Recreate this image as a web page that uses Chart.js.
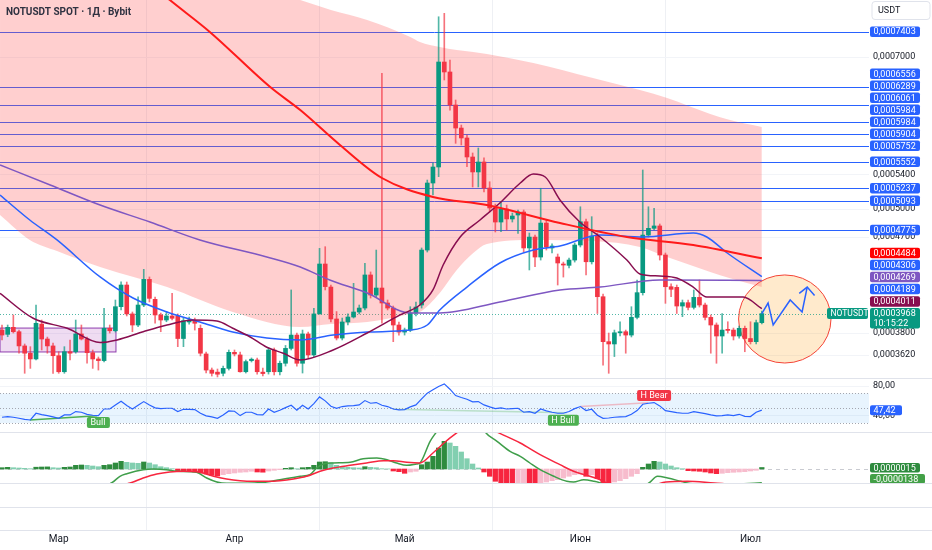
<!DOCTYPE html>
<html><head><meta charset="utf-8">
<script src="https://cdn.jsdelivr.net/npm/chart.js@4.4.1/dist/chart.umd.min.js"></script>
<style>html,body{margin:0;padding:0;background:#fff;}#wrap{width:932px;height:550px;position:relative;}</style>
</head><body><div id="wrap"><canvas id="c"></canvas></div>
<script>
// ---------- DATA (daily candles, index 0 = 19 Feb) ----------
const monthIdx = [10, 41, 71, 102, 132];
const monthLabels = ['Мар', 'Апр', 'Май', 'Июн', 'Июл'];
const priceTicks = [7.0e-4, 5.4e-4, 5.0e-4, 4.7e-4, 3.8e-4, 3.62e-4];
const rsiTicks = [80, 40];

const openP = [3.826,3.790,3.849,3.812,3.694,3.635,3.589,3.877,3.751,3.694,
3.615,3.489,3.647,3.647,3.793,3.751,3.639,3.589,3.576,3.841,
3.820,4.029,4.227,3.965,3.869,4.044,4.280,4.095,3.956,3.912,
3.947,3.947,3.755,3.895,3.906,3.841,3.629,3.502,3.486,3.477,
3.515,3.642,3.621,3.489,3.576,3.581,3.486,3.489,3.661,3.489,
3.555,3.674,3.784,3.555,3.793,3.621,3.965,4.428,4.208,3.921,
3.759,3.895,3.938,3.982,4.017,4.322,4.134,4.199,4.062,4.017,
3.869,3.809,3.826,3.973,4.044,4.567,5.297,5.488,6.923,6.772,
6.295,5.982,5.852,5.611,5.428,5.549,5.239,5.012,4.859,5.001,
4.892,4.935,4.968,4.588,4.700,4.497,4.848,4.588,4.497,4.428,
4.415,4.467,4.618,4.862,4.450,4.710,4.119,3.729,3.710,3.803,
3.812,3.784,3.935,4.156,4.721,4.792,4.817,4.517,4.211,4.205,
4.035,4.065,4.023,4.113,4.044,3.935,3.869,3.776,3.832,3.826,
3.776,3.841,3.755,3.729,3.889].map(v => v * 1e-4);
const highP = [3.869,3.869,3.956,3.826,3.710,3.688,4.044,3.912,3.767,3.718,
3.647,3.688,3.743,3.912,3.869,3.767,3.661,3.605,4.015,3.869,
4.089,4.258,4.255,3.982,4.119,4.376,4.303,4.116,3.973,3.986,
4.150,3.965,3.929,3.938,3.929,3.869,3.645,3.518,3.510,3.533,
3.661,3.661,3.645,3.581,3.597,3.597,3.518,3.677,3.677,3.573,
3.698,4.181,3.801,3.826,3.809,4.015,4.584,4.601,4.227,3.986,
3.929,3.965,4.243,4.044,4.434,4.351,4.567,6.752,4.089,4.035,
3.895,3.843,4.029,4.071,4.588,5.332,5.536,7.652,7.710,6.954,
6.365,6.022,5.891,5.661,5.724,5.599,5.312,5.056,5.083,5.045,
4.957,4.990,4.990,4.742,4.721,5.236,4.881,4.629,4.527,4.447,
4.487,4.639,5.026,4.892,4.917,4.742,4.144,3.801,3.826,3.897,
3.826,4.029,4.274,5.452,5.026,5.008,4.838,4.537,4.237,4.227,
4.089,4.089,4.181,4.274,4.062,3.956,3.887,3.969,3.897,3.843,
3.860,3.860,3.897,3.912,3.990].map(v => v * 1e-4);
const lowP = [3.743,3.770,3.801,3.635,3.477,3.515,3.581,3.661,3.635,3.477,
3.477,3.477,3.581,3.635,3.743,3.555,3.515,3.502,3.565,3.801,
3.809,4.000,3.947,3.812,3.855,4.029,4.071,3.884,3.812,3.897,
3.912,3.688,3.688,3.877,3.826,3.613,3.479,3.456,3.449,3.456,
3.502,3.613,3.486,3.479,3.565,3.471,3.456,3.471,3.464,3.464,
3.533,3.661,3.533,3.479,3.597,3.608,3.965,4.181,3.895,3.743,
3.743,3.869,3.929,3.965,4.000,4.107,4.116,3.884,4.000,3.729,
3.784,3.784,3.812,3.947,4.017,4.547,5.158,5.372,6.653,6.225,
5.783,5.762,5.492,5.251,5.251,5.193,4.968,4.753,4.757,4.774,
4.859,4.739,4.547,4.370,4.402,4.467,4.567,4.537,4.227,4.302,
4.389,4.447,4.598,4.322,4.428,3.969,3.541,3.477,3.608,3.776,
3.635,3.768,3.921,4.134,4.700,4.774,4.467,4.059,4.119,3.969,
3.941,4.000,4.008,4.026,3.912,3.635,3.555,3.635,3.801,3.743,
3.759,3.647,3.710,3.710,3.878].map(v => v * 1e-4);
const closeP = [3.784,3.849,3.812,3.694,3.635,3.589,3.884,3.751,3.694,3.615,
3.489,3.647,3.635,3.793,3.751,3.639,3.589,3.576,3.841,3.820,
4.029,4.227,3.965,3.869,4.044,4.280,4.104,3.956,3.912,3.947,
3.927,3.755,3.906,3.912,3.884,3.635,3.502,3.477,3.470,3.515,
3.642,3.629,3.489,3.568,3.587,3.489,3.475,3.661,3.489,3.555,
3.674,3.784,3.555,3.793,3.621,3.965,4.428,4.212,3.921,3.759,
3.895,3.938,3.982,4.017,4.322,4.134,4.199,4.062,4.017,3.869,
3.809,3.826,3.973,4.026,4.567,5.297,5.488,6.923,6.772,6.295,
5.982,5.852,5.611,5.428,5.549,5.239,5.012,4.859,5.001,4.892,
4.924,4.968,4.588,4.700,4.497,4.848,4.598,4.608,4.438,4.418,
4.467,4.618,4.862,4.450,4.710,4.119,3.729,3.710,3.803,3.812,
3.784,3.935,4.156,4.721,4.792,4.817,4.517,4.211,4.187,4.035,
4.065,4.023,4.113,4.044,3.935,3.869,3.776,3.826,3.823,3.776,
3.841,3.755,3.729,3.889,3.968].map(v => v * 1e-4);

// moving averages (sampled, x = candle index)
const redX = [24.3,29.6,36.7,47.3,52.6,59.6,67.0,76.0,85.5,98.4,110.2,121.9,134];
const redY = [8.392,7.941,7.396,6.550,6.225,5.762,5.356,5.136,5.045,4.849,4.701,4.618,4.484].map(v=>v*1e-4);
const blueX = [-0.35,4.9,9.7,17.3,23.1,29.1,34.9,40.7,46.7,52.6,58.4,64.4,72.0,75.0,77.2,82.0,87.8,93.7,98.4,105.5,113.1,121.9,124.3,127.9,134];
const blueY = [5.158,4.881,4.670,4.303,4.107,3.982,3.895,3.809,3.759,3.743,3.784,3.809,3.826,3.869,4.000,4.208,4.438,4.567,4.608,4.721,4.701,4.742,4.701,4.537,4.306].map(v=>v*1e-4);
const purpX = [-0.35,8.5,17.3,26.1,34.9,46.7,52.6,57.8,64.4,72.0,77.2,87.8,98.4,105.5,116.0,134];
const purpY = [5.512,5.274,5.045,4.859,4.670,4.497,4.399,4.274,4.153,3.973,3.973,4.071,4.181,4.208,4.274,4.269].map(v=>v*1e-4);
const maroonX = [-0.35,5.5,11.5,17.3,20.3,24.9,29.1,33.7,37.9,40.7,43.7,46.7,49.6,52.6,58.4,64.4,70.2,73.7,76.0,77.8,80.8,84.3,87.8,91.4,93.7,95.8,98.4,101.9,105.5,110.2,112.5,116.0,119.0,121.9,124.3,130.7,134];
const maroonY = [4.150,3.927,3.841,3.722,3.743,3.812,3.869,3.912,3.903,3.841,3.770,3.683,3.635,3.581,3.661,3.801,3.956,4.044,4.181,4.418,4.701,4.881,5.068,5.297,5.404,5.368,5.102,4.859,4.701,4.467,4.332,4.312,4.293,4.208,4.116,4.116,4.011].map(v=>v*1e-4);

// shaded cloud
const bandX = [-0.35,4.9,9.7,17.3,29.1,40.7,52.6,58.0,64.4,72.0,73.7,77.2,80.2,83.1,85.5,93.7,104.2,112.5,117.3,124.9,128.4,134];
const bandUp = [9.69,9.50,9.33,9.07,8.68,8.30,7.941,7.767,7.597,7.316,7.236,7.156,7.109,7.078,7.047,6.908,6.683,6.507,6.393,6.171,6.089,5.995].map(v=>v*1e-4);
const bandLo = [4.935,4.670,4.557,4.399,4.208,3.982,3.852,3.878,3.895,3.965,3.982,4.153,4.370,4.537,4.629,4.670,4.659,4.598,4.497,4.351,4.290,4.208].map(v=>v*1e-4);

// horizontal levels
const hLines = [7.403e-4,6.556e-4,6.289e-4,6.061e-4,5.904e-4,5.752e-4,5.552e-4,5.237e-4,5.093e-4,4.775e-4];
const extraLevels = [5.984e-4,5.984e-4,4.189e-4];

// drawings
const boxIdx = [-0.35, 20.1], boxPrice = [3.843e-4, 3.645e-4];
const ellIdx = [129.9, 146.2], ellPrice = [4.322e-4, 3.557e-4];
const arrowX = [134,135.1,136,139,141.1,142];
const arrowY = [3.968e-4,4.062e-4,3.869e-4,4.089e-4,3.982e-4,4.208e-4];
const headX = [140.6,142,143.3];
const headY = [4.150e-4,4.208e-4,4.130e-4];

// RSI
const rsi = [37.8,38.7,37.8,36.4,35.0,34.1,43.2,41.4,40.0,38.2,
36.4,40.9,40.9,45.5,44.6,41.8,40.5,40.0,49.0,49.0,
54.5,59.5,53.6,49.0,54.0,59.0,54.5,50.5,49.5,50.0,
50.0,45.5,48.6,48.6,48.2,43.2,39.6,38.2,36.4,40.9,
46.4,45.9,40.0,44.6,44.6,41.4,40.9,49.0,44.6,47.3,
50.9,54.0,47.3,54.0,49.0,56.3,65.4,60.0,52.7,50.0,
52.3,53.2,53.6,54.5,60.4,56.8,57.7,54.0,52.3,49.0,
47.7,48.2,51.8,54.5,62.7,70.4,75.0,79.5,83.0,75.8,
67.2,64.5,62.2,58.6,59.0,54.5,51.8,49.5,50.5,49.0,
49.5,50.0,44.6,45.5,43.2,49.0,46.4,44.6,43.2,43.2,
45.5,49.5,52.3,46.8,48.6,40.5,36.4,36.8,37.8,38.2,
38.7,41.8,46.8,55.4,56.8,57.7,53.2,46.8,45.5,44.1,
43.2,43.2,45.5,44.1,42.7,40.9,39.6,40.0,40.9,40.0,
41.8,39.1,38.7,44.6,47.42];
const bullX = [4.9,16.8], bullY = [34.1,39.9];
const hBullX = [69,99.6], hBullY = [48.6,44.0];
const hBearX = [102,114], hBearY = [52.2,57.4];

// MACD (units of 1e-6)
const macdHist = [1.3,1.7,1.3,1.0,0.7,0.3,1.8,2.0,2.1,1.3,
1.0,1.7,2.0,3.7,4.0,3.7,3.0,2.3,3.7,4.3,
6.0,7.7,6.7,6.0,5.7,7.0,6.0,4.3,2.3,1.3,
0.3,-2.0,-2.3,-2.7,-3.0,-4.0,-5.0,-6.3,-7.0,-5.7,
-4.7,-4.0,-3.3,-3.0,-2.3,-3.0,-3.2,-2.0,-1.3,-0.7,
0.7,1.3,0.3,1.3,1.7,3.7,7.0,7.3,6.3,3.7,
2.3,1.7,1.3,1.0,2.3,1.7,1.3,0.3,0.1,-2.0,
-2.7,-4.3,-3.0,-2.3,4.3,7.0,12.7,21.0,27.7,26.0,
22.7,17.0,10.3,5.0,1.0,-3.0,-7.3,-12.3,-15.0,-17.0,
-18.0,-16.5,-15.5,-16.5,-17.5,-14.0,-13.0,-11.7,-10.7,-9.0,
-7.3,-5.7,-5.0,-7.3,-5.7,-9.7,-14.0,-15.0,-13.0,-11.7,
-9.7,-7.3,-4.7,1.7,5.0,7.7,7.0,5.0,3.0,1.3,
0.3,-1.7,-2.0,-2.3,-3.0,-4.0,-4.7,-4.3,-3.7,-3.3,
-3.0,-2.7,-2.0,-1.3,1.5];
const macdX = [0,10,17,19.3,20.8,22.0,24.9,26.7,29.0,30.8,34.3,36.1,37.9,39.6,42.0,46.7,49.0,50.8,52.6,54.3,55.5,56.7,58.4,61.4,63.7,66.1,67.9,69.6,71.4,73.1,73.7,75.5,76.6,78.5,80.5,83.0,85.2,87.3,89.6,91.4,93.1,94.9,97.3,99.6,100.8,102.6,104.4,105.5,108,110,112,114.1,115.6,117.4,119.7,120.9,125,130,134];
const macdV = [-25,-22,-18,-14,-7.3,-4.7,-0.7,0,-0.7,-2.3,-3.3,-9,-13,-14.3,-14.3,-13,-10.7,-9,-7.3,-5.7,1,5,6,6.7,10.3,11,9.3,6,3.7,5,6,27.7,37,55,68,60,37,27.7,17.7,12.7,6,-0.7,-7.3,-12.3,-13,-10.7,-12.3,-14,-24,-26,-20,-14,-7.3,-9,-12.3,-14,-16,-15,-13.8];
const sigX = [0,10,17,22.6,24.9,27.3,29.6,32.0,34.9,37.3,39.6,42.0,44.3,46.7,49.0,51.4,53.7,56.1,58.4,61.4,64.3,67.3,69.0,71.4,73.7,76.0,78.3,80.4,82.5,84.5,87.3,91.4,94.9,98.4,100.8,103.1,105.5,106.7,110,114,117.1,120.9,125.6,130,134];
const sigV = [-28,-26,-20,-14,-9,-5,-3,-2.3,-3.3,-7.3,-10,-11.7,-12.3,-12.3,-11.7,-10,-7.3,-2.3,1,3.7,6,8.3,8.3,6.7,6,16,27.7,37,46,45,37,26,14.3,4.3,-2.3,-6.3,-10.7,-14,-20,-18,-13,-12.3,-14,-15.5,-15];

// ---------- CHART ----------
const UP = '#089981', DN = '#f23645';
const pts = (xs, ys) => xs.map((x, i) => ({x, y: ys[i]}));
const fmtP = v => v.toFixed(7).replace('.', ',');
const FONT = 'Roboto, "Noto Sans", sans-serif';

function rr(ctx, x, y, w, h, r) {
  ctx.beginPath();
  if (ctx.roundRect) ctx.roundRect(x, y, w, h, r); else ctx.rect(x, y, w, h);
}
function tag(ctx, x, y, w, h, bg, text, fg, size, bold) {
  ctx.fillStyle = bg; rr(ctx, x, y, w, h, 2); ctx.fill();
  ctx.fillStyle = fg; ctx.font = (bold ? 'bold ' : '') + size + 'px ' + FONT;
  ctx.textBaseline = 'middle'; ctx.textAlign = 'left';
  ctx.fillText(text, x + 3.5, y + h / 2 + 0.5);
}
const noPad = s => { s.paddingTop = 0; s.paddingBottom = 0; s.paddingLeft = 0; s.paddingRight = 0; };

const clipPlugin = {
  id: 'paneClip',
  beforeDatasetDraw(chart, args) {
    const ys = args.meta.yScale, ca = chart.chartArea, ctx = chart.ctx;
    ctx.save(); ctx.beginPath(); ctx.rect(ca.left, ys.top, ca.right - ca.left, ys.bottom - ys.top); ctx.clip();
  },
  afterDatasetDraw(chart) { chart.ctx.restore(); }
};

const decoPlugin = {
  id: 'deco',
  beforeDatasetsDraw(chart) {
    const {ctx, chartArea: ca, scales} = chart;
    const y = scales.y, x = scales.x, yR = scales.yR, yM = scales.yM;
    ctx.save();
    // horizontal levels
    ctx.strokeStyle = '#2962ff'; ctx.lineWidth = 1;
    hLines.forEach(v => {
      const py = Math.round(y.getPixelForValue(v)) + 0.5;
      ctx.beginPath(); ctx.moveTo(ca.left, py); ctx.lineTo(ca.right, py); ctx.stroke();
    });
    // range box
    const bx0 = x.getPixelForValue(boxIdx[0]), bx1 = x.getPixelForValue(boxIdx[1]);
    const by0 = y.getPixelForValue(boxPrice[0]), by1 = y.getPixelForValue(boxPrice[1]);
    ctx.fillStyle = 'rgba(156,39,176,0.16)'; ctx.fillRect(bx0, by0, bx1 - bx0, by1 - by0);
    ctx.strokeStyle = 'rgba(123,31,162,0.85)'; ctx.lineWidth = 1;
    ctx.strokeRect(bx0, by0, bx1 - bx0, by1 - by0);
    // ellipse
    const ex0 = x.getPixelForValue(ellIdx[0]), ex1 = x.getPixelForValue(ellIdx[1]);
    const ey0 = y.getPixelForValue(ellPrice[0]), ey1 = y.getPixelForValue(ellPrice[1]);
    ctx.beginPath();
    ctx.ellipse((ex0 + ex1) / 2, (ey0 + ey1) / 2, (ex1 - ex0) / 2, (ey1 - ey0) / 2, 0, 0, Math.PI * 2);
    ctx.fillStyle = 'rgba(255,152,0,0.2)'; ctx.fill();
    ctx.strokeStyle = '#f44336'; ctx.lineWidth = 1; ctx.stroke();
    // current price dotted line
    const cy = Math.round(y.getPixelForValue(closeP[closeP.length - 1])) + 0.5;
    ctx.setLineDash([1, 2]); ctx.strokeStyle = 'rgba(8,153,129,0.7)';
    ctx.beginPath(); ctx.moveTo(ca.left, cy); ctx.lineTo(ca.right, cy); ctx.stroke();
    // RSI band
    const t70 = yR.getPixelForValue(70), t30 = yR.getPixelForValue(30), t50 = yR.getPixelForValue(50);
    ctx.setLineDash([]);
    ctx.fillStyle = 'rgba(33,150,243,0.1)'; ctx.fillRect(ca.left, t70, ca.right - ca.left, t30 - t70);
    ctx.setLineDash([1, 2]); ctx.strokeStyle = '#a3a6af';
    [t70, t50, t30].forEach(p => { const q = Math.round(p) + 0.5; ctx.beginPath(); ctx.moveTo(ca.left, q); ctx.lineTo(ca.right, q); ctx.stroke(); });
    // MACD zero line
    const z = Math.round(yM.getPixelForValue(0)) + 0.5;
    ctx.setLineDash([4, 4]); ctx.strokeStyle = '#c9cbd1';
    ctx.beginPath(); ctx.moveTo(ca.left, z); ctx.lineTo(ca.right, z); ctx.stroke();
    ctx.restore();
  },
  afterDraw(chart) {
    const {ctx, chartArea: ca, scales} = chart;
    const y = scales.y, x = scales.x, yR = scales.yR, yM = scales.yM, yE = scales.yE;
    const W = chart.width;
    ctx.save();
    // pane separators
    ctx.strokeStyle = '#e0e3eb'; ctx.lineWidth = 1;
    [y.bottom, yR.bottom, yM.bottom, (yE.top + yE.bottom) / 2, ca.bottom].forEach(p => {
      const q = Math.round(p) + 0.5; ctx.beginPath(); ctx.moveTo(0, q); ctx.lineTo(W, q); ctx.stroke();
    });
    // title
    ctx.fillStyle = '#2f3241'; ctx.font = 'bold 10px ' + FONT; ctx.textBaseline = 'middle'; ctx.textAlign = 'left';
    ctx.fillText('NOTUSDT SPOT · 1Д · Bybit', 6, 12);
    // USDT header
    ctx.fillStyle = '#fff'; rr(ctx, 872, 1.5, 58, 18, 3); ctx.fill();
    ctx.strokeStyle = '#e0e3eb'; ctx.stroke();
    ctx.fillStyle = '#131722'; ctx.font = '9px ' + FONT; ctx.fillText('USDT', 878, 11);
    // price axis labels with stacking
    const last = closeP[closeP.length - 1];
    const cpy = y.getPixelForValue(last);
    const lx = ca.right + 1;
    const items = hLines.map(v => ({v, c: '#2962ff'}))
      .concat(extraLevels.map(v => ({v, c: '#2962ff'})))
      .concat([{v: redY[redY.length - 1], c: '#ff0000'}, {v: blueY[blueY.length - 1], c: '#2962ff'},
               {v: purpY[purpY.length - 1], c: '#7e57c2'}, {v: maroonY[maroonY.length - 1], c: '#880e4f'}]);
    items.forEach(it => it.p = y.getPixelForValue(it.v));
    items.sort((a, b) => b.p - a.p || a.v - b.v);
    let limit = cpy - 6;
    items.forEach(it => { it.p = Math.min(it.p, limit - 6); limit = it.p - 6; });
    items.forEach(it => tag(ctx, lx, it.p - 5.25, 50, 10.5, it.c, fmtP(it.v), '#fff', 9));
    // current price
    ctx.fillStyle = UP; rr(ctx, lx, cpy - 5.5, 50, 20.5, 2); ctx.fill();
    ctx.fillStyle = '#fff'; ctx.font = '9px ' + FONT;
    ctx.fillText(fmtP(last), lx + 3.5, cpy + 0.5); ctx.fillText('10:15:22', lx + 3.5, cpy + 10);
    tag(ctx, ca.right - 42, cpy - 5.5, 41, 11, UP, 'NOTUSDT', '#fff', 8.5);
    // RSI value
    const rv = rsi[rsi.length - 1];
    tag(ctx, lx, yR.getPixelForValue(rv) - 5, 32, 10, '#2962ff', rv.toFixed(2).replace('.', ','), '#fff', 9);
    // MACD values
    const hv = macdHist[macdHist.length - 1], mv = macdV[macdV.length - 1];
    const hp = yM.getPixelForValue(hv);
    ctx.save(); ctx.beginPath(); ctx.rect(0, yM.top, W, yM.bottom - yM.top); ctx.clip();
    tag(ctx, lx, hp - 4.5, 50, 9.5, '#2e8b3e', fmtP(hv * 1e-6), '#fff', 9);
    tag(ctx, lx, hp + 6.5, 55, 9.5, '#43a047', fmtP(mv * 1e-6), '#fff', 9);
    ctx.restore();
    // divergence labels
    const bl = (ix, rv2, dy, text, bg, w) => {
      const px = x.getPixelForValue(ix), py = yR.getPixelForValue(rv2);
      tag(ctx, px - w / 2, py + dy, w, 11, bg, text, '#fff', 9);
    };
    bl(17, 40, 1.5, 'Bull', '#4caf50', 23);
    bl(99, 44, 2, 'H Bull', '#4caf50', 31);
    bl(115, 57.7, -12.5, 'H Bear', '#f23645', 34);
    ctx.restore();
  }
};

const lineDs = (xs, ys, color, w, order, axis, extra) => Object.assign({
  type: 'line', data: pts(xs, ys), borderColor: color, borderWidth: w, pointRadius: 0,
  fill: false, order, yAxisID: axis || 'y', cubicInterpolationMode: 'monotone'
}, extra || {});

const candleColor = (alpha) => (c) => {
  const i = c.dataIndex; const up = closeP[i] >= openP[i];
  return up ? `rgba(8,153,129,${alpha})` : `rgba(242,54,69,${alpha})`;
};

const histColor = (c) => {
  const i = c.dataIndex, v = macdHist[i], p = i > 0 ? macdHist[i - 1] : v;
  if (v >= 0) return v >= p ? '#2e8b3e' : '#82cfb0';
  return v <= p ? '#f7253f' : '#f7bccd';
};

new Chart(document.getElementById('c'), {
  type: 'line',
  data: {
    datasets: [
      lineDs(bandX, bandUp, 'rgba(0,0,0,0)', 0, 30, 'y', {fill: '+1', backgroundColor: 'rgba(255,82,82,0.28)'}),
      lineDs(bandX, bandLo, 'rgba(0,0,0,0)', 0, 31),
      {type: 'bar', data: lowP.map((l, i) => ({x: i, y: [l, highP[i]]})), backgroundColor: candleColor(0.7),
       grouped: false, barThickness: 1, maxBarThickness: 1, order: 12, yAxisID: 'y', borderWidth: 0},
      {type: 'bar', data: openP.map((o, i) => ({x: i, y: [o, closeP[i]]})), backgroundColor: candleColor(1),
       grouped: false, barThickness: 4, maxBarThickness: 4, minBarLength: 1, order: 11, yAxisID: 'y', borderWidth: 0},
      lineDs(purpX, purpY, '#7e57c2', 1.5, 8),
      lineDs(blueX, blueY, '#2962ff', 1.5, 7),
      lineDs(maroonX, maroonY, '#880e4f', 1.5, 6),
      lineDs(redX, redY, '#ff1a1a', 2, 5),
      lineDs(arrowX, arrowY, '#2962ff', 1.5, 1, 'y', {cubicInterpolationMode: 'default', tension: 0}),
      lineDs(headX, headY, '#2962ff', 1.5, 1, 'y', {cubicInterpolationMode: 'default', tension: 0}),
      lineDs(rsi.map((_, i) => i), rsi, '#2962ff', 1.2, 2, 'yR', {cubicInterpolationMode: 'default', tension: 0}),
      lineDs(bullX, bullY, '#4caf50', 1.5, 3, 'yR', {cubicInterpolationMode: 'default', tension: 0}),
      lineDs(hBullX, hBullY, 'rgba(76,175,80,0.3)', 1.5, 3, 'yR', {cubicInterpolationMode: 'default', tension: 0}),
      lineDs(hBearX, hBearY, 'rgba(242,54,69,0.3)', 1.5, 3, 'yR', {cubicInterpolationMode: 'default', tension: 0}),
      {type: 'bar', data: macdHist.map((v, i) => ({x: i, y: v})), backgroundColor: histColor,
       grouped: false, barThickness: 4.6, maxBarThickness: 4.6, order: 15, yAxisID: 'yM', borderWidth: 0},
      lineDs(macdX, macdV, '#3f9e4a', 1.5, 14, 'yM'),
      lineDs(sigX, sigV, '#f7263f', 1.5, 13, 'yM')
    ]
  },
  options: {
    responsive: true, maintainAspectRatio: false, animation: false, events: [],
    layout: {padding: 0},
    plugins: {legend: {display: false}, tooltip: {enabled: false}},
    scales: {
      x: {
        type: 'linear', position: 'bottom', min: -0.353, max: 152.9, offset: false,
        afterBuildTicks: s => { s.ticks = monthIdx.map(v => ({value: v})); },
        afterFit: s => { s.height = 20; noPad(s); },
        ticks: {autoSkip: false, maxRotation: 0, padding: 3, color: '#131722', font: {family: FONT, size: 10},
                callback: v => monthLabels[monthIdx.indexOf(v)] || ''},
        grid: {color: c => (c.tick && monthIdx.indexOf(c.tick.value) >= 0) ? '#eef0f4' : 'rgba(0,0,0,0)', drawTicks: false},
        border: {display: false}
      },
      y: {
        axis: 'y', type: 'logarithmic', position: 'right', stack: 'panes', stackWeight: 378,
        min: 3.441e-4, max: 7.941e-4, bounds: 'data',
        afterBuildTicks: s => { s.ticks = priceTicks.map(v => ({value: v})); },
        afterFit: s => { s.width = 63; noPad(s); },
        ticks: {autoSkip: false, padding: 4, color: '#131722', font: {family: FONT, size: 9}, callback: v => fmtP(v)},
        grid: {color: '#f2f4f8', drawTicks: false}, border: {display: false}
      },
      yR: {
        axis: 'y', type: 'linear', position: 'right', stack: 'panes', stackWeight: 54, min: 17.8, max: 91,
        afterBuildTicks: s => { s.ticks = rsiTicks.map(v => ({value: v})); },
        afterFit: s => { s.width = 63; noPad(s); },
        ticks: {autoSkip: false, padding: 4, color: '#131722', font: {family: FONT, size: 9}, callback: v => v.toFixed(2).replace('.', ',')},
        grid: {color: '#f2f4f8', drawTicks: false}, border: {display: false}
      },
      yM: {
        axis: 'y', type: 'linear', position: 'right', stack: 'panes', stackWeight: 51, min: -14, max: 37,
        afterFit: s => { s.width = 63; noPad(s); },
        ticks: {display: false}, grid: {display: false, drawTicks: false}, border: {display: false}
      },
      yE: {
        axis: 'y', type: 'linear', position: 'right', stack: 'panes', stackWeight: 47, min: 0, max: 1,
        afterFit: s => { s.width = 63; noPad(s); },
        ticks: {display: false}, grid: {display: false, drawTicks: false}, border: {display: false}
      }
    }
  },
  plugins: [clipPlugin, decoPlugin]
});
</script></body></html>
